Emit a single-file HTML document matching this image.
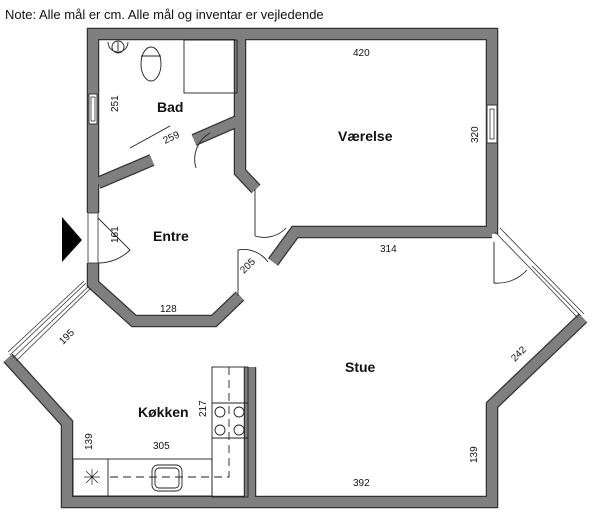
<!DOCTYPE html>
<html><head><meta charset="utf-8"><style>
body{margin:0;background:#fff}
svg{display:block}
text{font-family:"Liberation Sans",sans-serif;fill:#111}
.b{font-weight:bold;font-size:14px}
.s{font-size:10px}
</style></head><body>
<svg width="600" height="515" viewBox="0 0 600 515">
<text x="5" y="19" font-size="13">Note: Alle mål er cm. Alle mål og inventar er vejledende</text>
<g fill="none" stroke-linejoin="miter" stroke-linecap="butt">
<g stroke="#333" stroke-width="12.5">
<polyline points="93,213 93,34 492,34 492,234"/>
<polyline points="93,263 93,284 134,321 214,321 240,296"/>
<line x1="240" y1="34" x2="240" y2="168"/><polyline points="240,168 240,172 256,189"/>
<polyline points="273,262 295,232 492,232"/>
<polyline points="583,318 492,405 492,502 67,502 67,423 8,358"/>
<line x1="98" y1="183" x2="152" y2="160"/><line x1="194" y1="140" x2="240" y2="120"/>
<line x1="250" y1="367" x2="250" y2="500"/>
</g>
<g stroke="#7f7f7f" stroke-width="10">
<polyline points="93,213 93,34 492,34 492,234"/>
<polyline points="93,263 93,284 134,321 214,321 240,296"/>
<line x1="240" y1="34" x2="240" y2="168"/><polyline points="240,168 240,172 256,189"/>
<polyline points="273,262 295,232 492,232"/>
<polyline points="583,318 492,405 492,502 67,502 67,423 8,358"/>
<line x1="98" y1="183" x2="152" y2="160"/><line x1="194" y1="140" x2="240" y2="120"/>
<line x1="250" y1="367" x2="250" y2="500"/>
</g>
</g>
<!-- windows -->
<rect x="89" y="94" width="8" height="30" fill="#fff" stroke="#333" stroke-width="1"/>
<rect x="91" y="97" width="4" height="24" fill="none" stroke="#333" stroke-width="0.8"/>
<rect x="487" y="105" width="10" height="38" fill="#fff" stroke="#333" stroke-width="1"/>
<rect x="490" y="109" width="4" height="30" fill="none" stroke="#333" stroke-width="0.8"/>
<g stroke="#333" stroke-width="0.8" fill="none">
<line x1="86" y1="283" x2="10" y2="355"/><line x1="89" y1="286" x2="13" y2="358"/><line x1="91" y1="288" x2="16" y2="361"/><line x1="84" y1="281" x2="8" y2="352"/>
<line x1="495" y1="232" x2="530" y2="268"/><line x1="500" y1="228" x2="535" y2="264"/>
<line x1="530" y1="268" x2="578" y2="318"/><line x1="535" y1="264" x2="584" y2="314"/><line x1="532" y1="266" x2="581" y2="316"/>
</g>
<!-- entrance opening -->
<rect x="88" y="213" width="10" height="50" fill="#fff" stroke="#333" stroke-width="0.8"/>
<path d="M62,217 L82,240 L62,262 Z" fill="#000"/>
<g stroke="#222" stroke-width="0.9" fill="none">
<path d="M98,263 A45,45 0 0 0 130,250 L98,218"/>
<path d="M196,168 A30,30 0 0 1 210,133"/>
<path d="M255,236 A30,30 0 0 0 286,228"/><line x1="255" y1="236" x2="255" y2="189"/>
<path d="M238,250 A30,30 0 0 1 268,262"/><line x1="238" y1="250" x2="238" y2="296"/>
<path d="M494,242 V283 A40,40 0 0 0 527,270"/>
<line x1="130" y1="148" x2="170" y2="126"/>
<!-- bad fixtures -->
<rect x="184" y="40" width="53" height="53"/>
<ellipse cx="151" cy="64" rx="10" ry="17"/><line x1="141" y1="56" x2="161" y2="56"/>
<path d="M108,42 A10,10 0 0 0 128,42"/><circle cx="118" cy="47" r="6"/><line x1="118" y1="42" x2="118" y2="51"/>
<!-- kitchen -->
<rect x="212" y="367" width="36" height="130"/>
<line x1="212" y1="403" x2="248" y2="403"/><line x1="212" y1="438" x2="248" y2="438"/>
<rect x="73" y="459" width="139" height="37"/>
<line x1="108" y1="459" x2="108" y2="496"/>
<rect x="152" y="465" width="30" height="26" rx="6"/><rect x="155" y="468" width="24" height="20" rx="4"/>
<circle cx="220" cy="412" r="5"/><circle cx="239" cy="412" r="5"/><circle cx="220" cy="430" r="5"/><circle cx="239" cy="430" r="5"/>
<path d="M229,367 V477 H110" stroke-dasharray="8,5"/>
<path d="M84,477 h16 M92,469 v16 M86,471 l12,12 M98,471 l-12,12" stroke-width="0.7"/>
</g>
<text x="157" y="112" class="b">Bad</text>
<text x="338" y="141" class="b">Værelse</text>
<text x="153" y="241" class="b">Entre</text>
<text x="345" y="372" class="b">Stue</text>
<text x="138" y="417" class="b">Køkken</text>
<text x="353" y="56" class="s">420</text>
<text x="380" y="252" class="s">314</text>
<text x="160" y="312" class="s">128</text>
<text x="153" y="449" class="s">305</text>
<text x="353" y="486" class="s">392</text>
<text class="s" transform="translate(118,112) rotate(-90)">251</text>
<text class="s" transform="translate(118,243) rotate(-90)">161</text>
<text class="s" transform="translate(92,450) rotate(-90)">139</text>
<text class="s" transform="translate(206,417) rotate(-90)">217</text>
<text class="s" transform="translate(478,143) rotate(-90)">320</text>
<text class="s" transform="translate(477,463) rotate(-90)">139</text>
<text class="s" transform="translate(165,144) rotate(-25)">259</text>
<text class="s" transform="translate(244,274) rotate(-45)">205</text>
<text class="s" transform="translate(63,345) rotate(-45)">195</text>
<text class="s" transform="translate(515,362) rotate(-45)">242</text>
</svg>
</body></html>
